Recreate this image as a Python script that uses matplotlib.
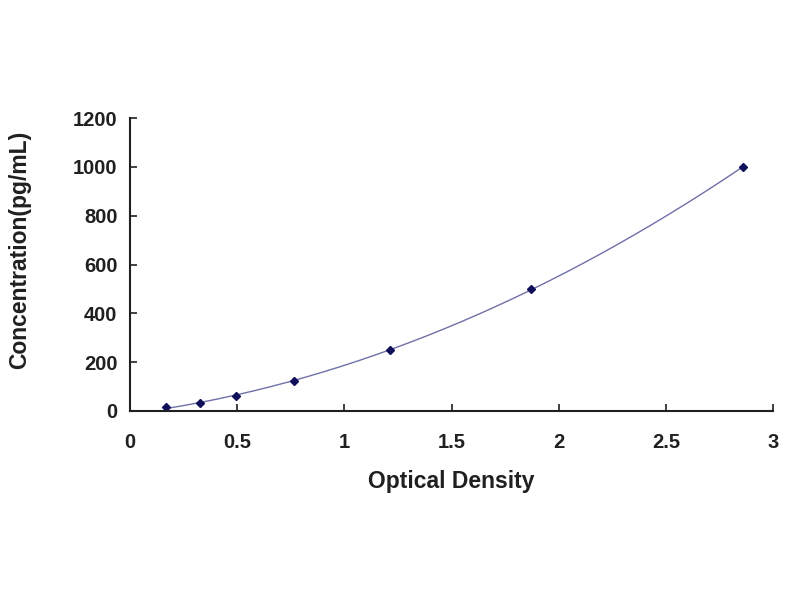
import numpy as np
import matplotlib
matplotlib.use('Agg')
import matplotlib.pyplot as plt

# Standard curve readings
od = [0.168, 0.327, 0.495, 0.765, 1.213, 1.871, 2.860]
conc = [15.6, 31.25, 62.5, 125, 250, 500, 1000]

x_ticks = [0, 0.5, 1, 1.5, 2, 2.5, 3]
x_tick_labels = ['0', '0.5', '1', '1.5', '2', '2.5', '3']
y_ticks = [0, 200, 400, 600, 800, 1000, 1200]

plt.rcParams['font.family'] = ['Liberation Sans', 'DejaVu Sans']
plt.rcParams['font.weight'] = 'bold'

fig = plt.figure(figsize=(8, 6), dpi=100)
ax = fig.add_axes([0.1625, 0.315, 0.8038, 0.488])

# fitted curve through the standards
coef = np.polyfit(od, conc, 2)
xs = np.linspace(min(od), max(od), 200)
ax.plot(xs, np.polyval(coef, xs), color='#7070a8', linewidth=1.0)
ax.plot(od, conc, linestyle='none', marker='D', markersize=4.5,
        color='#10105a')

ax.set_xlim(0, 3)
ax.set_ylim(0, 1200)
ax.set_xticks(x_ticks)
ax.set_xticklabels(x_tick_labels)
ax.set_yticks(y_ticks)

for side in ['top', 'right']:
    ax.spines[side].set_visible(False)
for side in ['left', 'bottom']:
    ax.spines[side].set_linewidth(1.5)
    ax.spines[side].set_color('#202020')

ax.tick_params(direction='in', length=5, width=1.2, colors='#202020',
               labelsize=14.5)
ax.tick_params(axis='x', pad=16)
ax.tick_params(axis='y', pad=9)

ax.set_xlabel('Optical Density', fontsize=16.5, fontweight='bold', color='#202020')
ax.set_ylabel('Concentration(pg/mL)', fontsize=16.5, fontweight='bold', color='#202020')
ax.xaxis.set_label_coords(0.50, -0.20)
ax.yaxis.set_label_coords(-0.153, 0.55)

fig.savefig('out.png', dpi=100)
